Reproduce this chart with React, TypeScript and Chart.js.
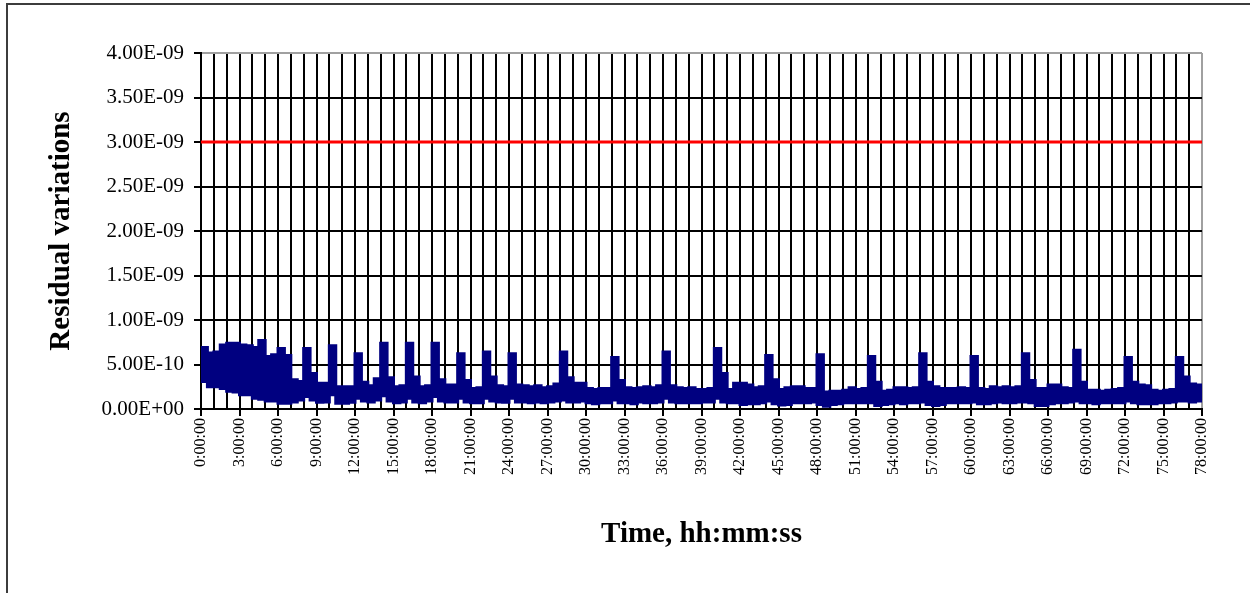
import { useEffect, useRef } from 'react';
import { Chart, registerables } from 'chart.js';

Chart.register(...registerables);

// Residual variations, sampled in half-hour bins: per-bin maximum and minimum (units of 1E-10).
const BIN_HOURS = 0.5;
const VALUE_UNIT = 1e-10;

const BIN_MAX_E10 = [
  6.9, 6.3, 6.4, 7.2, 7.4, 7.4, 7.2, 7.1, 6.9, 7.7, 5.9, 6.1, 6.8, 6.0, 3.3, 3.1,
  6.8, 4.0, 2.9, 2.9, 7.1, 2.5, 2.5, 2.5, 6.2, 3.0, 2.6, 3.4, 7.4, 3.5, 2.5, 2.6,
  7.4, 3.6, 2.5, 2.6, 7.4, 3.3, 2.7, 2.7, 6.2, 3.2, 2.3, 2.4, 6.4, 3.6, 2.6, 2.5,
  6.2, 2.7, 2.6, 2.5, 2.6, 2.4, 2.5, 2.8, 6.4, 3.5, 2.9, 2.9, 2.3, 2.2, 2.3, 2.3,
  5.8, 3.2, 2.4, 2.3, 2.4, 2.5, 2.4, 2.6, 6.4, 2.6, 2.4, 2.3, 2.4, 2.2, 2.2, 2.3,
  6.8, 4.0, 2.2, 2.9, 2.9, 2.7, 2.4, 2.5, 6.0, 3.3, 2.2, 2.4, 2.5, 2.5, 2.3, 2.3,
  6.1, 1.9, 2.0, 2.0, 2.1, 2.4, 2.2, 2.3, 5.9, 3.0, 2.0, 2.1, 2.4, 2.4, 2.3, 2.4,
  6.2, 3.0, 2.5, 2.3, 2.3, 2.3, 2.4, 2.3, 5.9, 2.3, 2.2, 2.5, 2.4, 2.5, 2.4, 2.5,
  6.2, 3.2, 2.3, 2.3, 2.7, 2.7, 2.4, 2.3, 6.6, 3.0, 2.1, 2.1, 2.0, 2.1, 2.2, 2.3,
  5.8, 3.0, 2.7, 2.6, 2.1, 2.0, 2.1, 2.2, 5.8, 3.6, 2.8, 2.7, 2.0,
];

const BIN_MIN_E10 = [
  3.1, 2.5, 2.5, 2.3, 2.0, 1.9, 1.6, 1.6, 1.2, 1.1, 0.9, 0.9, 0.65, 0.65, 0.8, 1.0,
  1.4, 1.0, 0.75, 0.8, 1.6, 0.65, 0.65, 0.75, 1.2, 0.9, 0.8, 1.0, 1.5, 0.9, 0.7, 0.8,
  1.2, 0.8, 0.7, 0.9, 1.4, 0.9, 0.8, 0.8, 1.2, 0.8, 0.7, 0.7, 1.2, 0.9, 0.8, 0.75,
  1.2, 0.8, 0.8, 0.7, 0.8, 0.7, 0.8, 0.9, 1.0, 0.8, 0.8, 0.9, 0.7, 0.6, 0.7, 0.7,
  1.0, 0.7, 0.7, 0.6, 0.8, 0.7, 0.7, 0.8, 1.2, 0.8, 0.7, 0.7, 0.7, 0.7, 0.8, 0.8,
  1.2, 0.8, 0.7, 0.7, 0.5, 0.6, 0.6, 0.7, 0.9, 0.6, 0.45, 0.5, 0.7, 0.7, 0.7, 0.8,
  0.5, 0.3, 0.5, 0.6, 0.7, 0.7, 0.7, 0.7, 0.7, 0.4, 0.5, 0.6, 0.7, 0.6, 0.7, 0.7,
  0.8, 0.5, 0.4, 0.5, 0.7, 0.7, 0.7, 0.7, 0.8, 0.6, 0.6, 0.7, 0.8, 0.7, 0.7, 0.8,
  0.8, 0.7, 0.4, 0.4, 0.6, 0.7, 0.7, 0.8, 0.9, 0.7, 0.7, 0.6, 0.7, 0.7, 0.7, 0.7,
  0.9, 0.7, 0.6, 0.6, 0.6, 0.7, 0.7, 0.8, 0.9, 0.9, 0.8, 0.9, 0.9,
];

// Acceptance limit
const LIMIT_VALUE = 3.0e-9;

// Axis ranges
const X_MAX_HOURS = 78;
const X_GRID_STEP_HOURS = 1;
const X_LABEL_STEP_HOURS = 3;
const Y_MIN = 0;
const Y_MAX = 4e-9;
const Y_STEP = 5e-10;

const X_TITLE = 'Time, hh:mm:ss';
const Y_TITLE = 'Residual variations';

const SERIF = "'Liberation Serif', 'Times New Roman', Times, serif";
const NAVY = '#000080';
const RED = '#ff0000';
const PLOT_EDGE = '#a0a0a0';

function sciLabel(v: number): string {
  if (Math.abs(v) < 1e-20) return '0.00E+00';
  let exp = Math.floor(Math.log10(Math.abs(v)) + 1e-9);
  const mant = v / Math.pow(10, exp);
  let m = mant.toFixed(2);
  if (m === '10.00') {
    exp += 1;
    m = (mant / 10).toFixed(2);
  }
  const sign = exp < 0 ? '-' : '+';
  return `${m}E${sign}${String(Math.abs(exp)).padStart(2, '0')}`;
}

function hmsLabel(hours: number): string {
  return `${hours}:00:00`;
}

function isLabelHour(v: number): boolean {
  return Math.abs(v % X_LABEL_STEP_HOURS) < 1e-6;
}

// White page with the outer frame edges
const framePlugin = {
  id: 'pageFrame',
  beforeDraw(chart: any) {
    const { ctx, width, height } = chart;
    ctx.save();
    ctx.fillStyle = '#ffffff';
    ctx.fillRect(0, 0, width, height);
    ctx.strokeStyle = '#3c3c3c';
    ctx.lineWidth = 2;
    ctx.beginPath();
    ctx.moveTo(7, height);
    ctx.lineTo(7, 4);
    ctx.lineTo(width, 4);
    ctx.stroke();
    ctx.restore();
  },
};

export default function App() {
  const canvasRef = useRef<HTMLCanvasElement | null>(null);

  useEffect(() => {
    const canvas = canvasRef.current;
    if (!canvas) return;

    // each bin value holds from its start time until the next bin starts
    const maxPoints = BIN_MAX_E10.map((v, i) => ({ x: i * BIN_HOURS, y: v * VALUE_UNIT }));
    const minPoints = BIN_MIN_E10.map((v, i) => ({ x: i * BIN_HOURS, y: v * VALUE_UNIT }));

    const chart = new Chart(canvas, {
      type: 'line',
      data: {
        datasets: [
          {
            label: 'max',
            data: maxPoints,
            stepped: 'before',
            borderColor: NAVY,
            backgroundColor: NAVY,
            borderWidth: 3,
            pointRadius: 0,
            fill: '+1',
          },
          {
            label: 'min',
            data: minPoints,
            stepped: 'before',
            borderColor: NAVY,
            backgroundColor: NAVY,
            borderWidth: 3,
            pointRadius: 0,
            fill: false,
          },
          {
            label: 'limit',
            data: [
              { x: 0, y: LIMIT_VALUE },
              { x: X_MAX_HOURS, y: LIMIT_VALUE },
            ],
            borderColor: RED,
            borderWidth: 3,
            pointRadius: 0,
            fill: false,
          },
        ],
      },
      options: {
        animation: false,
        responsive: false,
        events: [],
        layout: { padding: { left: 0, top: 53, right: 48, bottom: 0 } },
        plugins: {
          legend: { display: false },
          tooltip: { enabled: false },
        },
        scales: {
          x: {
            type: 'linear',
            min: 0,
            max: X_MAX_HOURS,
            afterFit: (s: any) => {
              s.height = 184;
            },
            ticks: {
              stepSize: X_GRID_STEP_HOURS,
              autoSkip: false,
              maxRotation: 90,
              minRotation: 90,
              padding: 2,
              color: '#000',
              font: { family: SERIF, size: 16 },
              callback: (v: any) => (isLabelHour(Number(v)) ? hmsLabel(Number(v)) : ''),
            },
            grid: {
              color: (ctx: any) =>
                ctx.tick && Math.abs(ctx.tick.value - X_MAX_HOURS) < 1e-6 ? PLOT_EDGE : '#000',
              lineWidth: 2,
              tickLength: 7,
              tickWidth: 2,
              tickColor: (ctx: any) =>
                ctx.tick && isLabelHour(ctx.tick.value) ? '#000' : 'rgba(0,0,0,0)',
            },
            border: { color: '#000', width: 2 },
            title: {
              display: true,
              text: X_TITLE,
              color: '#000',
              font: { family: SERIF, size: 29, weight: 'bold' },
              padding: { top: 0, bottom: 41 },
            },
          },
          y: {
            type: 'linear',
            min: Y_MIN,
            max: Y_MAX,
            afterFit: (s: any) => {
              s.width = 201;
            },
            ticks: {
              stepSize: Y_STEP,
              padding: 10,
              color: '#000',
              font: { family: SERIF, size: 21 },
              callback: (v: any) => sciLabel(Number(v)),
            },
            grid: {
              color: (ctx: any) =>
                ctx.tick && ctx.tick.value > Y_MAX - Y_STEP / 10 ? PLOT_EDGE : '#000',
              lineWidth: 2,
              tickLength: 7,
              tickWidth: 2,
              tickColor: '#000',
            },
            border: { color: '#000', width: 2 },
            title: {
              display: true,
              text: Y_TITLE,
              color: '#000',
              font: { family: SERIF, size: 29, weight: 'bold' },
              padding: { top: 44, bottom: 0 },
            },
          },
        },
      },
      plugins: [framePlugin],
    } as any);

    return () => {
      chart.destroy();
    };
  }, []);

  return (
    <div style={{ position: 'absolute', left: 0, top: 0, width: 1250, height: 593 }}>
      <canvas ref={canvasRef} width={1250} height={593} style={{ display: 'block' }} />
    </div>
  );
}
